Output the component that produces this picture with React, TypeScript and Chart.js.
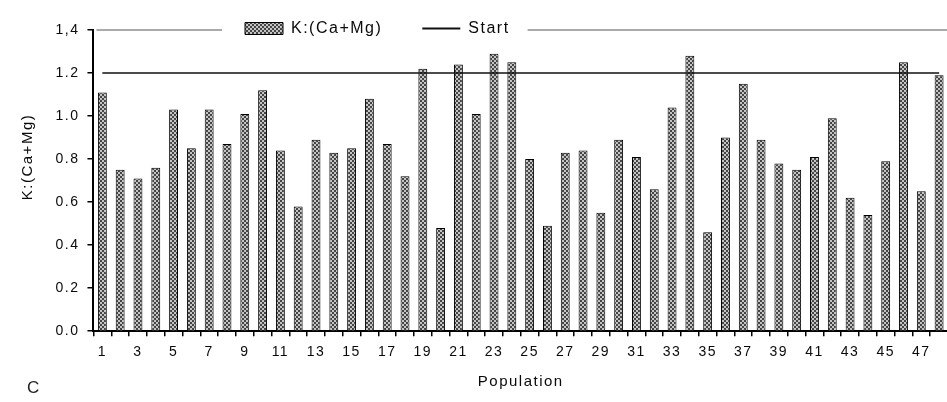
import React, { useEffect, useRef } from 'react';
import { Chart, registerables } from 'chart.js';

Chart.register(...registerables);

const categories = [
  '1', '2', '3', '4', '5', '6', '7', '8', '9', '10', '11', '12',
  '13', '14', '15', '16', '17', '18', '19', '20', '21', '22', '23', '24',
  '25', '26', '27', '28', '29', '30', '31', '32', '33', '34', '35', '36',
  '37', '38', '39', '40', '41', '42', '43', '44', '45', '46', '47', '48',
];

const kCaMg = [
  1.11, 0.75, 0.71, 0.76, 1.03, 0.85, 1.03, 0.87, 1.01, 1.12, 0.84, 0.58,
  0.89, 0.83, 0.85, 1.08, 0.87, 0.72, 1.22, 0.48, 1.24, 1.01, 1.29, 1.25,
  0.80, 0.49, 0.83, 0.84, 0.55, 0.89, 0.81, 0.66, 1.04, 1.28, 0.46, 0.90,
  1.15, 0.89, 0.78, 0.75, 0.81, 0.99, 0.62, 0.54, 0.79, 1.25, 0.65, 1.19,
];

const startLevel = [
  1.2, 1.2, 1.2, 1.2, 1.2, 1.2, 1.2, 1.2, 1.2, 1.2, 1.2, 1.2,
  1.2, 1.2, 1.2, 1.2, 1.2, 1.2, 1.2, 1.2, 1.2, 1.2, 1.2, 1.2,
  1.2, 1.2, 1.2, 1.2, 1.2, 1.2, 1.2, 1.2, 1.2, 1.2, 1.2, 1.2,
  1.2, 1.2, 1.2, 1.2, 1.2, 1.2, 1.2, 1.2, 1.2, 1.2, 1.2, 1.2,
];

const xTickLabels = [
  '1', '', '3', '', '5', '', '7', '', '9', '', '11', '',
  '13', '', '15', '', '17', '', '19', '', '21', '', '23', '',
  '25', '', '27', '', '29', '', '31', '', '33', '', '35', '',
  '37', '', '39', '', '41', '', '43', '', '45', '', '47', '',
];

const yTickLabels = ['0.0', '0.2', '0.4', '0.6', '0.8', '1.0', '1.2', '1,4'];

const seriesLabel = 'K:(Ca+Mg)';
const lineLabel = 'Start';
const xTitle = 'Population';
const yTitle = 'K:(Ca+Mg)';
const panelLetter = 'C';

const FONT = "'Liberation Sans', Arial, sans-serif";
const SPACING = '1.5px';

function makePattern(): CanvasPattern | string {
  const c = document.createElement('canvas');
  c.width = 4;
  c.height = 4;
  const g = c.getContext('2d');
  if (!g) return '#888';
  g.fillStyle = '#c4c4c4';
  g.fillRect(0, 0, 4, 4);
  g.fillStyle = '#454545';
  g.fillRect(0, 0, 2, 2);
  g.fillRect(2, 2, 2, 2);
  return g.createPattern(c, 'repeat') || '#888';
}

const spacingPlugin = {
  id: 'letterSpacing',
  beforeUpdate(chart: any) {
    chart.ctx.letterSpacing = SPACING;
  },
  beforeDraw(chart: any) {
    chart.ctx.letterSpacing = SPACING;
  },
};

const legendPlacePlugin = {
  id: 'legendPlace',
  beforeDraw(chart: any) {
    const lg = chart.legend;
    if (!lg) return;
    const pad = lg.options.labels.padding;
    const itemH = 16;
    const centerY = chart.chartArea.top - 1.5;
    const top = centerY - pad - itemH / 2;
    lg.top = top;
    lg.bottom = centerY + 14;
    lg.left = 245 - pad;
    lg.right = chart.width;
  },
};

const frameTopPlugin = {
  id: 'frameTop',
  beforeDatasetsDraw(chart: any) {
    const { ctx, chartArea, legend } = chart;
    const pad = legend.options.labels.padding;
    const start = legend.left + pad;
    const end = start + legend.lineWidths[0] - pad;
    const y = chartArea.top;
    ctx.save();
    ctx.strokeStyle = '#8e8e8e';
    ctx.lineWidth = 1.5;
    ctx.beginPath();
    ctx.moveTo(chartArea.left + 3, y);
    ctx.lineTo(start - 23, y);
    ctx.moveTo(end + 18, y);
    ctx.lineTo(chartArea.right, y);
    ctx.stroke();
    ctx.restore();
  },
};

export default function App() {
  const ref = useRef<HTMLCanvasElement | null>(null);

  useEffect(() => {
    if (!ref.current) return;
    const pattern = makePattern();
    const chart = new Chart(ref.current, {
      type: 'bar',
      data: {
        labels: categories,
        datasets: [
          {
            type: 'bar',
            label: seriesLabel,
            data: kCaMg,
            backgroundColor: pattern as any,
            borderColor: '#000',
            borderWidth: 1,
            barPercentage: 0.5,
            categoryPercentage: 1,
            pointStyle: 'rect',
            order: 2,
          } as any,
          {
            type: 'line',
            label: lineLabel,
            data: startLevel,
            borderColor: '#111',
            borderWidth: 1.5,
            pointRadius: 0,
            pointHoverRadius: 0,
            pointStyle: 'line',
            pointBorderWidth: 2,
            pointBorderColor: '#111',
            fill: false,
            order: 1,
          } as any,
        ],
      },
      options: {
        animation: false,
        responsive: false,
        events: [],
        layout: { padding: { top: 10, left: 47.5, right: 2, bottom: 7.5 } },
        plugins: {
          legend: {
            position: 'top',
            align: 'start',
            maxHeight: 20,
            labels: {
              usePointStyle: true,
              pointStyleWidth: 38,
              boxHeight: 12,
              padding: 40,
              color: '#0a0a0a',
              font: { family: FONT, size: 16 },
              sort: (a: any, b: any) => a.datasetIndex - b.datasetIndex,
            },
          },
          tooltip: { enabled: false },
        },
        scales: {
          x: {
            offset: true,
            grid: {
              display: true,
              offset: true,
              drawOnChartArea: false,
              drawTicks: true,
              tickLength: 5,
              tickColor: '#000',
              lineWidth: 1.5,
            },
            border: { display: true, color: '#000', width: 2 },
            ticks: {
              autoSkip: false,
              maxRotation: 0,
              minRotation: 0,
              padding: 8,
              color: '#0a0a0a',
              font: { family: FONT, size: 14 },
              callback: (_v: any, i: number) => xTickLabels[i],
            },
            title: {
              display: true,
              text: xTitle,
              color: '#0a0a0a',
              font: { family: FONT, size: 15 },
              padding: { top: 3.5, bottom: 4 },
            },
          },
          y: {
            min: 0,
            max: 1.4,
            ticks: {
              stepSize: 0.2,
              padding: 8,
              color: '#0a0a0a',
              font: { family: FONT, size: 14 },
              callback: (_v: any, i: number) => yTickLabels[i],
            },
            grid: {
              drawOnChartArea: false,
              drawTicks: true,
              tickLength: 6,
              tickColor: '#000',
              lineWidth: 1.5,
            },
            border: { display: true, color: '#000', width: 2 },
          },
        },
      } as any,
      plugins: [spacingPlugin, legendPlacePlugin, frameTopPlugin],
    });
    return () => chart.destroy();
  }, []);

  return (
    <div
      style={{
        position: 'absolute',
        left: 0,
        top: 0,
        width: 947,
        height: 402,
        overflow: 'hidden',
        background: '#fff',
      }}
    >
      <canvas ref={ref} width={950} height={402} style={{ display: 'block' }} />
      <div
        style={{
          position: 'absolute',
          left: 25.5,
          top: 156.5,
          transform: 'translate(-50%, -50%) rotate(-90deg)',
          whiteSpace: 'nowrap',
          fontFamily: FONT,
          fontSize: 15,
          letterSpacing: SPACING,
          color: '#0a0a0a',
          lineHeight: 1,
        }}
      >
        {yTitle}
      </div>
      <div
        style={{
          position: 'absolute',
          left: 27,
          top: 379,
          fontFamily: FONT,
          fontSize: 17,
          color: '#222',
          lineHeight: '17px',
        }}
      >
        {panelLetter}
      </div>
    </div>
  );
}
